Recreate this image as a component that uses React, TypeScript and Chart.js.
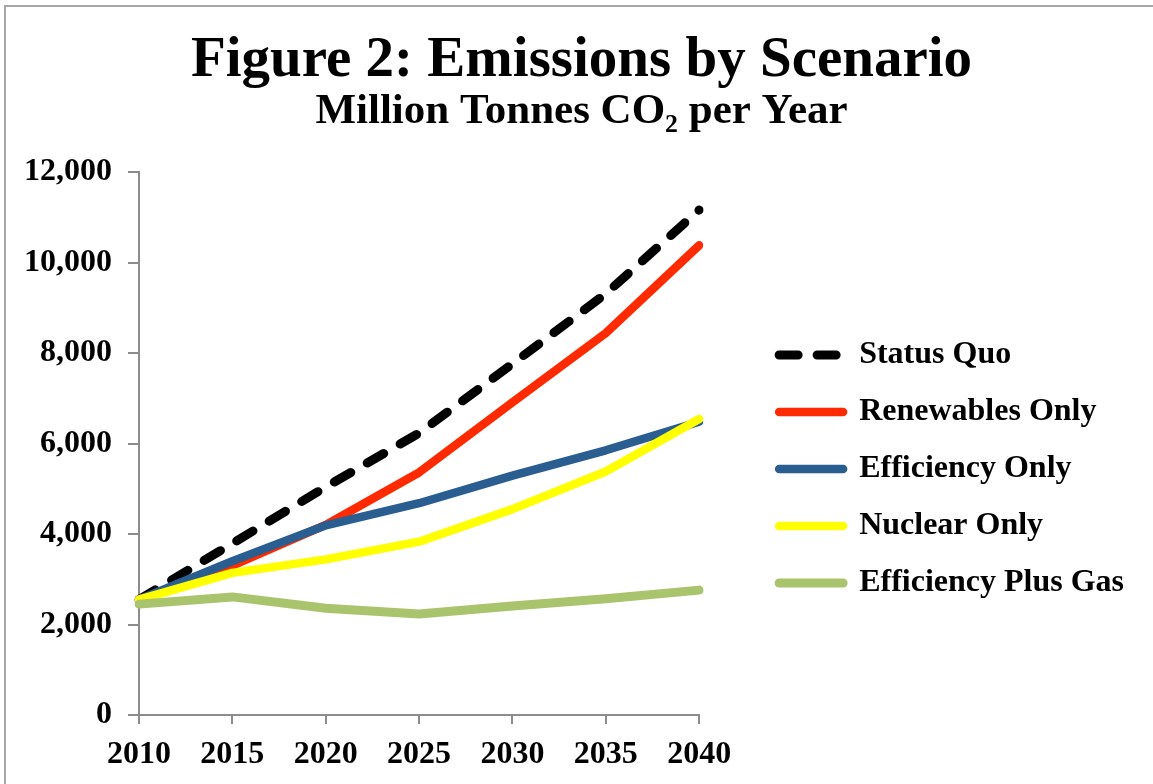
import React, { useEffect, useRef } from "react";
import { Chart, registerables } from "chart.js";

Chart.register(...registerables);

const years = ["2010", "2015", "2020", "2025", "2030", "2035", "2040"];
const statusQuo = [2550, 3790, 5040, 6230, 7760, 9310, 11160];
const renewablesOnly = [2550, 3300, 4200, 5360, 6910, 8440, 10380];
const efficiencyOnly = [2550, 3400, 4190, 4680, 5290, 5850, 6480];
const nuclearOnly = [2550, 3140, 3440, 3830, 4550, 5380, 6540];
const efficiencyPlusGas = [2450, 2610, 2360, 2230, 2410, 2570, 2760];
const seriesNames = ["Status Quo", "Renewables Only", "Efficiency Only", "Nuclear Only", "Efficiency Plus Gas"];
const yMin = 0;
const yMax = 12000;
const yStep = 2000;
const titleText = "Figure 2: Emissions by Scenario";
const subtitleText = "Million Tonnes CO\u2082 per Year";

const FONT = "'Liberation Serif', 'Times New Roman', serif";
const AXIS_GRAY = "#8c8c8c";

export default function App() {
  const canvasRef = useRef<HTMLCanvasElement | null>(null);

  useEffect(() => {
    const canvas = canvasRef.current;
    if (!canvas) return;
    const defaultGen = (Chart as any).defaults.plugins.legend.labels.generateLabels;
    const chart = new Chart(canvas, {
      type: "line",
      data: {
        labels: years,
        datasets: [
          {
            label: seriesNames[0],
            data: statusQuo,
            borderColor: "#000000",
            backgroundColor: "#000000",
            borderWidth: 9,
            borderDash: [19, 19],
            borderCapStyle: "round",
            order: 4,
          },
          {
            label: seriesNames[1],
            data: renewablesOnly,
            borderColor: "#FF2A00",
            backgroundColor: "#FF2A00",
            borderWidth: 8.5,
            borderCapStyle: "round",
            order: 3,
          },
          {
            label: seriesNames[2],
            data: efficiencyOnly,
            borderColor: "#2A5E90",
            backgroundColor: "#2A5E90",
            borderWidth: 8.5,
            borderCapStyle: "round",
            order: 2,
          },
          {
            label: seriesNames[3],
            data: nuclearOnly,
            borderColor: "#FFFF00",
            backgroundColor: "#FFFF00",
            borderWidth: 8.5,
            borderCapStyle: "round",
            order: 1,
          },
          {
            label: seriesNames[4],
            data: efficiencyPlusGas,
            borderColor: "#A9C46D",
            backgroundColor: "#A9C46D",
            borderWidth: 9,
            borderCapStyle: "round",
            order: 0,
          },
        ],
      },
      options: {
        animation: false,
        responsive: false,
        devicePixelRatio: 1,
        elements: {
          point: { radius: 0, hoverRadius: 0 },
          line: { tension: 0, borderJoinStyle: "round" },
        },
        layout: { padding: { left: 23, right: 13, top: 0, bottom: 11 } },
        plugins: {
          tooltip: { enabled: false },
          title: {
            display: true,
            text: titleText,
            color: "#000",
            font: { family: FONT, size: 57, weight: "bold", lineHeight: 1 },
            padding: { top: 33, bottom: 0 },
          },
          subtitle: {
            display: true,
            text: subtitleText,
            color: "#000",
            font: { family: FONT, size: 43, weight: "bold", lineHeight: 1 },
            padding: { top: 0, bottom: 39 },
          },
          legend: {
            display: true,
            position: "right",
            align: "start",
            fullSize: false,
            maxWidth: 600,
            title: {
              display: true,
              text: "",
              color: "rgba(0,0,0,0)",
              font: { size: 10, lineHeight: 1 },
              padding: { top: 132, bottom: 0 },
            },
            labels: {
              usePointStyle: true,
              pointStyle: "line",
              pointStyleWidth: 64,
              padding: 25,
              color: "#000",
              font: { family: FONT, size: 32, weight: "bold" },
              sort: (a: any, b: any) => a.datasetIndex - b.datasetIndex,
              generateLabels: (ch: any) =>
                defaultGen(ch).map((item: any) => {
                  const ds = ch.data.datasets[item.datasetIndex];
                  return {
                    ...item,
                    lineDash: ds.borderDash || [],
                    lineCap: ds.borderCapStyle || "butt",
                    lineWidth: ds.borderWidth,
                    strokeStyle: ds.borderColor,
                  };
                }),
            },
          },
        },
        scales: {
          x: {
            type: "category",
            offset: false,
            afterFit: (scale: any) => {
              scale.height = 58;
            },
            grid: {
              display: true,
              drawOnChartArea: false,
              drawTicks: true,
              tickLength: 9,
              color: AXIS_GRAY,
              lineWidth: 2,
            },
            border: { display: true, color: AXIS_GRAY, width: 2 },
            ticks: {
              color: "#000",
              padding: 12,
              maxRotation: 0,
              autoSkip: false,
              font: { family: FONT, size: 32, weight: "bold" },
            },
          },
          y: {
            type: "linear",
            position: "left",
            min: yMin,
            max: yMax,
            afterFit: (scale: any) => {
              scale.width = 116;
            },
            grid: {
              display: true,
              drawOnChartArea: false,
              drawTicks: true,
              tickLength: 11,
              color: AXIS_GRAY,
              lineWidth: 2,
            },
            border: { display: true, color: AXIS_GRAY, width: 2 },
            ticks: {
              stepSize: yStep,
              color: "#000",
              padding: 16,
              font: { family: FONT, size: 32, weight: "bold" },
              callback: (v: any) => Number(v).toLocaleString("en-US"),
            },
          },
          spacer: {
            type: "linear",
            position: "right",
            display: true,
            weight: 0,
            afterFit: (scale: any) => {
              scale.width = 55;
            },
            grid: { display: false },
            border: { display: false },
            ticks: { display: false },
          },
          spacerOuter: {
            type: "linear",
            position: "right",
            display: true,
            weight: 2000,
            afterFit: (scale: any) => {
              scale.width = 6;
            },
            grid: { display: false },
            border: { display: false },
            ticks: { display: false },
          },
        },
      },
    } as any);
    return () => chart.destroy();
  }, []);

  return (
    <div style={{ position: "absolute", left: 0, top: 0, width: 1153, height: 784, background: "#fff" }}>
      <canvas ref={canvasRef} width={1153} height={784} style={{ display: "block" }} />
      <div style={{ position: "absolute", left: 4, top: 5, width: 1149, height: 2, background: "#a6a6a6" }} />
      <div style={{ position: "absolute", left: 4, top: 5, width: 2, height: 779, background: "#a6a6a6" }} />
    </div>
  );
}
